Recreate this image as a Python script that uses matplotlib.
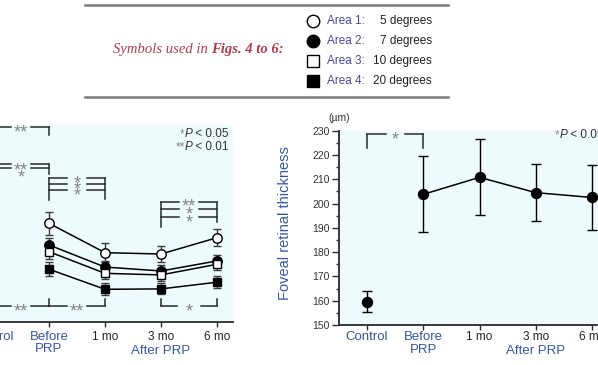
import numpy as np
import matplotlib
matplotlib.use("Agg")
import matplotlib.pyplot as plt

plt.rcParams['font.family'] = ['Liberation Sans', 'DejaVu Sans']

# Дані
categories = ["Control", "Before\nPRP", "1 mo", "3 mo", "6 mo"]
after_label = "After PRP"

area_names = ["Area 1:", "Area 2:", "Area 3:", "Area 4:"]
area_degrees = ["5 degrees", "7 degrees", "10 degrees", "20 degrees"]

# ліва панель: Before, 1 mo, 3 mo, 6 mo (Control поза кадром)
area1 = [230.1, 215.2, 214.5, 222.8]
area1_err = [5.8, 4.8, 4.1, 4.4]
area2 = [219.1, 207.9, 205.9, 211.0]
area2_err = [3.5, 3.0, 3.0, 3.0]
area3 = [215.7, 204.7, 203.9, 209.3]
area3_err = [3.5, 3.0, 3.0, 3.0]
area4 = [206.8, 196.6, 196.8, 200.2]
area4_err = [3.5, 3.0, 2.8, 3.0]

# права панель: товщина фовеа (мкм)
foveal = [159.6, 203.8, 210.8, 204.5, 202.5]
foveal_err = [4.2, 15.7, 15.7, 11.6, 13.4]

BG = '#eefbfc'
BLUE = '#3556a8'
AREA_BLUE = '#4848a6'
DARK = '#222222'
STAR = '#858585'
LINE = '#2a2a2a'

W, H = 598, 365
fig = plt.figure(figsize=(W / 100, H / 100), dpi=100)


def px_axes(x0, x1, ytop, ybot):
    return fig.add_axes([x0 / W, 1 - ybot / H, (x1 - x0) / W, (ybot - ytop) / H])


def star(ax, x, y, s, size=13):
    # зірочка з центром на лінії
    ax.annotate(s, (x, y), xytext=(0, -0.57 * size), textcoords='offset points',
                ha='center', va='baseline', color=STAR, fontsize=size,
                annotation_clip=False)


def bracket(ax, x0, x1, ys, labels, half_gap, ends, up=False):
    xc = (x0 + x1) / 2
    for y, lab in zip(ys, labels):
        ax.plot([x0, xc - half_gap], [y, y], color=LINE, lw=1.1, clip_on=False)
        ax.plot([xc + half_gap, x1], [y, y], color=LINE, lw=1.1, clip_on=False)
        star(ax, xc, y, lab)
    yst = min(ys) if up else max(ys)
    for x, e in zip((x0, x1), ends):
        if e is not None:
            ax.plot([x, x], [yst, e], color=LINE, lw=1.1, clip_on=False)


def setup_x(ax, pad):
    x = np.arange(len(categories))
    ax.set_xlim(-0.5, 4.286)
    ax.set_xticks(x)
    ax.set_xticklabels(categories, linespacing=1.05)
    ax.tick_params(axis='x', direction='out', length=3.5, width=1, pad=pad,
                   color=LINE)
    for i, t in enumerate(ax.get_xticklabels()):
        if i < 2:
            t.set_color(BLUE)
            t.set_fontsize(9.5)
        else:
            t.set_color(DARK)
            t.set_fontsize(8.5)
    ax.set_facecolor(BG)
    ax.spines['top'].set_visible(False)
    ax.spines['right'].set_visible(False)
    for s in ('left', 'bottom'):
        ax.spines[s].set_linewidth(1.3)
        ax.spines[s].set_color(LINE)


def p_note(ax, y, stars):
    t = ax.text(1 - 4 / 268, y, " < 0.05" if stars == "*" else " < 0.01",
                transform=ax.transAxes, ha='right', va='center', fontsize=8.5,
                color='#333333', clip_on=False)
    t2 = ax.annotate("P", xy=(0, 0), xycoords=t, ha='right', va='bottom',
                     fontsize=8.5, style='italic', color='#333333',
                     annotation_clip=False)
    ax.annotate(stars, xy=(0, 0), xycoords=t2, ha='right', va='bottom',
                fontsize=8.5, color=STAR, annotation_clip=False)


# ---------------- ліва панель ----------------
axl = px_axes(-35, 233, 125, 322)
axl.set_ylim(180, 280)
setup_x(axl, 3.0)
axl.set_yticks([])

xs = np.arange(1, 5)
series = [
    (area1, area1_err, 'o', 'white', 6.8),
    (area2, area2_err, 'o', 'black', 6.8),
    (area3, area3_err, 's', 'white', 6.0),
    (area4, area4_err, 's', 'black', 6.0),
]
for vals, err, m, fc, ms in series:
    axl.errorbar(xs, vals, yerr=err, fmt='-', marker=m, ms=ms, mfc=fc,
                 mec='black', mew=1.0, color='black', lw=1.1,
                 ecolor='#3a3a3a', elinewidth=1.0, capsize=2.6, capthick=1.0,
                 zorder=3)

bracket(axl, 0, 1, [279.0], ["**"], 0.17, (None, 274.9))
bracket(axl, 0, 1, [260.2, 258.2], ["", ""], 0.17, (None, 255.1))
star(axl, 0.5, 259.8, "**")
star(axl, 0.5, 255.8, "*")
bracket(axl, 1, 2, [252.9, 249.9, 246.9], ["*", "*", "*"], 0.17, (242.0, 242.4))
bracket(axl, 3, 4, [241.1, 237.2, 233.1], ["**", "*", "*"], 0.17, (228.4, 230.9))
bracket(axl, 0, 1, [188.1], ["**"], 0.18, (None, 191.5), up=True)
bracket(axl, 1, 2, [188.1], ["**"], 0.18, (None, 191.5), up=True)
bracket(axl, 3, 4, [188.1], ["*"], 0.21, (191.5, 191.5), up=True)

p_note(axl, 0.954, "*")
p_note(axl, 0.887, "**")
axl.annotate(after_label, xy=(3, 0), xycoords=('data', 'axes fraction'),
             xytext=(0, -20.6), textcoords='offset points', ha='center',
             va='center', color=BLUE, fontsize=9.5, annotation_clip=False)

# ---------------- права панель ----------------
axr = px_axes(339, 608, 130.7, 325)
axr.set_ylim(150, 230)
setup_x(axr, 1.0)
axr.set_yticks(np.arange(150, 231, 10))
axr.set_yticks(np.arange(150, 231, 5), minor=True)
axr.tick_params(axis='y', which='major', direction='out', length=5, width=1,
                labelsize=7.5, labelcolor='#333333', pad=1.5, color=LINE)
axr.tick_params(axis='y', which='minor', direction='out', length=2.5, width=1,
                color=LINE)

axr.errorbar(xs, foveal[1:], yerr=foveal_err[1:], fmt='-o', ms=7.2,
             mfc='black', mec='black', color='black', lw=1.1,
             ecolor='black', elinewidth=1.0, capsize=3.4, capthick=1.0,
             zorder=3)
axr.errorbar([0], foveal[:1], yerr=foveal_err[:1], fmt='o', ms=7.2,
             mfc='black', mec='black', ecolor='black', elinewidth=1.0,
             capsize=3.4, capthick=1.0, zorder=3)

bracket(axr, 0, 1, [228.6], ["*"], 0.17, (222.8, 222.8))
p_note(axr, 0.978, "*")
axr.annotate(after_label, xy=(3, 0), xycoords=('data', 'axes fraction'),
             xytext=(0, -18.4), textcoords='offset points', ha='center',
             va='center', color=BLUE, fontsize=9.5, annotation_clip=False)

fig.text(285 / W, 1 - 223 / H, "Foveal retinal thickness", rotation=90,
         ha='center', va='center', color=BLUE, fontsize=10.5)
fig.text(339 / W, 1 - 118.3 / H, "(\u00b5m)", ha='center', va='center',
         color='#333333', fontsize=7.5)

# ---------------- легенда ----------------
ov = fig.add_axes([0, 0, 1, 1], zorder=5)
ov.set_xlim(0, W)
ov.set_ylim(H, 0)
ov.axis('off')
ov.patch.set_visible(False)

ov.plot([85, 448], [5, 5], color='#7a7a7a', lw=1.8)
ov.plot([85, 448], [97, 97], color='#7a7a7a', lw=1.8)

leg_marks = [('o', 'white', 9.0), ('o', 'black', 9.0),
             ('s', 'white', 8.0), ('s', 'black', 8.0)]
for i, (m, fc, ms) in enumerate(leg_marks):
    y = 20.7 + i * 20.1
    ov.plot([312.7], [y], marker=m, ms=ms, mfc=fc, mec='black', mew=1.0,
            ls='none')
    ov.text(326.7, y, area_names[i], ha='left', va='center', color=AREA_BLUE,
            fontsize=8.5)
    ov.text(431.7, y, area_degrees[i], ha='right', va='center', color=DARK,
            fontsize=8.5)

t1 = ov.text(113, 50, "Symbols used in ", ha='left', va='center',
             family=['Liberation Serif', 'DejaVu Serif'], style='italic',
             fontsize=10.5, color='#b23a4c')
ov.annotate("Figs. 4 to 6:", xy=(1, 0), xycoords=t1, ha='left', va='bottom',
            family=['Liberation Serif', 'DejaVu Serif'], style='italic',
            weight='bold', fontsize=10.5, color='#b23a4c')

fig.savefig("out.png", dpi=100)
